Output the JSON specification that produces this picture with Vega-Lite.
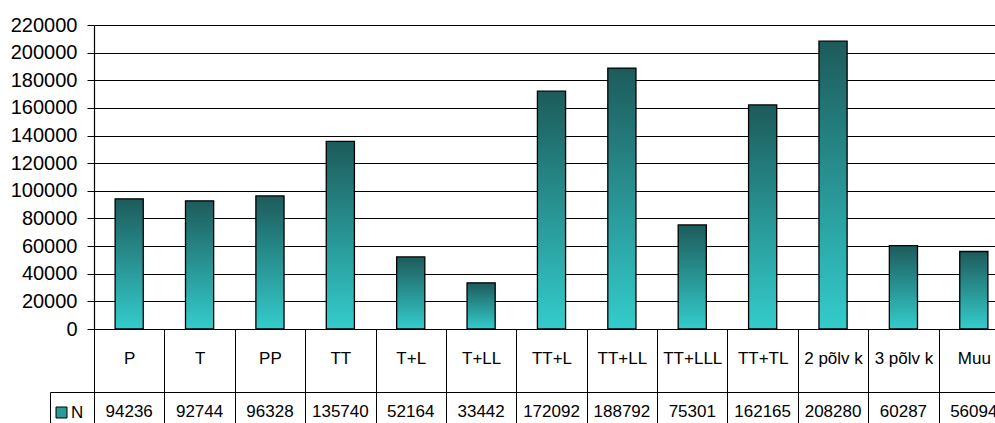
{
  "$schema": "https://vega.github.io/schema/vega-lite/v6.json",
  "background": "white",
  "padding": {"left": 10, "top": 15, "right": 0, "bottom": 0},
  "config": {
    "font": "Liberation Sans",
    "view": {"stroke": null},
    "axis": {"labelColor": "black", "domainColor": "black", "tickColor": "black", "gridColor": "black", "gridOpacity": 1, "labelFont": "Liberation Sans"},
    "legend": {"labelFont": "Liberation Sans"}
  },
  "datasets": {
    "table": [
      {"category": "P", "series": "N", "count": 94236},
      {"category": "T", "series": "N", "count": 92744},
      {"category": "PP", "series": "N", "count": 96328},
      {"category": "TT", "series": "N", "count": 135740},
      {"category": "T+L", "series": "N", "count": 52164},
      {"category": "T+LL", "series": "N", "count": 33442},
      {"category": "TT+L", "series": "N", "count": 172092},
      {"category": "TT+LL", "series": "N", "count": 188792},
      {"category": "TT+LLL", "series": "N", "count": 75301},
      {"category": "TT+TL", "series": "N", "count": 162165},
      {"category": "2 põlv k", "series": "N", "count": 208280},
      {"category": "3 põlv k", "series": "N", "count": 60287},
      {"category": "Muu", "series": "N", "count": 56094}
    ]
  },
  "data": {"name": "table"},
  "spacing": 63,
  "bounds": "flush",
  "resolve": {"legend": {"fill": "independent"}},
  "vconcat": [
    {
      "width": 915,
      "height": 304,
      "mark": {
        "type": "bar",
        "width": {"band": 0.4},
        "fill": {"gradient": "linear", "x1": 0, "y1": 0, "x2": 0, "y2": 1, "stops": [{"offset": 0, "color": "#1d5b5b"}, {"offset": 1, "color": "#34cccc"}]},
        "stroke": "black",
        "strokeWidth": 1.3
      },
      "encoding": {
        "x": {
          "field": "category", "type": "nominal", "sort": null,
          "scale": {"type": "band", "paddingInner": 0, "paddingOuter": 0},
          "axis": {"title": null, "orient": "bottom", "labelAngle": 0, "labelFontSize": 17, "labelBaseline": "middle", "labelPadding": -34, "tickBand": "extent", "tickSize": 63, "tickWidth": 1, "domainWidth": 1, "labelOverlap": false, "labelFlush": false, "labelLimit": 0, "grid": false}
        },
        "y": {
          "field": "count", "type": "quantitative",
          "scale": {"domain": [0, 220000], "nice": false},
          "axis": {"title": null, "values": [0, 20000, 40000, 60000, 80000, 100000, 120000, 140000, 160000, 180000, 200000, 220000], "format": "d", "labelFontSize": 20, "tickSize": 7, "labelPadding": 10, "grid": true, "gridWidth": 1, "domainWidth": 1.2}
        }
      }
    },
    {
      "width": 915,
      "height": 39,
      "encoding": {
        "x": {
          "field": "category", "type": "nominal", "sort": null,
          "scale": {"type": "band", "paddingInner": 0, "paddingOuter": 0},
          "axis": {"orient": "top", "title": null, "labels": false, "ticks": false, "domain": true, "domainWidth": 1, "grid": true, "gridWidth": 1, "tickBand": "extent"}
        },
        "y": {
          "field": "series", "type": "nominal",
          "scale": {"type": "band", "paddingInner": 0, "paddingOuter": 0},
          "axis": {"orient": "left", "title": null, "labels": false, "ticks": true, "tickSize": -44, "tickWidth": 1, "domain": true, "domainWidth": 1, "grid": true, "gridWidth": 1, "tickBand": "extent", "offset": 44}
        }
      },
      "layer": [
        {
          "mark": {"type": "text", "fontSize": 17, "color": "black", "font": "Liberation Sans"},
          "encoding": {"text": {"field": "count", "type": "quantitative", "format": "d"}}
        },
        {
          "mark": {"type": "square", "opacity": 0, "stroke": "black", "strokeWidth": 1},
          "encoding": {
            "fill": {
              "field": "series", "type": "nominal",
              "scale": {"range": ["#2a9a9a"]},
              "legend": {
                "title": null, "orient": "none", "legendX": -41, "legendY": 12, "padding": 0,
                "symbolType": "square", "symbolSize": 121, "symbolOpacity": 1, "symbolStrokeColor": "black", "symbolStrokeWidth": 1,
                "labelFontSize": 17, "labelOffset": 1, "labelColor": "black",
                "encode": {"symbols": {"update": {"fill": {"value": {"gradient": "linear", "x1": 0, "y1": 0, "x2": 0, "y2": 1, "stops": [{"offset": 0, "color": "#1d5b5b"}, {"offset": 1, "color": "#34cccc"}]}}, "stroke": {"value": "black"}}}}
              }
            }
          }
        }
      ]
    }
  ]
}
